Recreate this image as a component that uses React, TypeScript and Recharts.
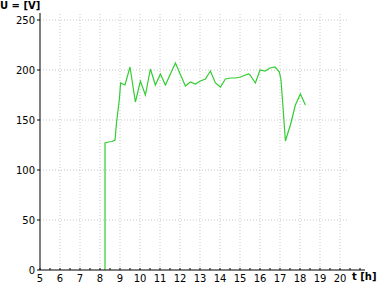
import React from "react";
import { LineChart, Line, XAxis, YAxis, ReferenceLine } from "recharts";

const hours = [
  8.25, 8.25, 8.42, 8.6, 8.75, 8.83, 8.97, 9.03, 9.25, 9.5, 9.77, 10.02, 10.27,
  10.52, 10.77, 11.02, 11.27, 11.77, 12.27, 12.52, 12.77, 13.02, 13.27, 13.52,
  13.77, 14.02, 14.27, 14.52, 14.77, 15.02, 15.42, 15.5, 15.77, 16.0, 16.25,
  16.5, 16.75, 16.97, 17.05, 17.15, 17.27, 17.52, 17.77, 18.02, 18.27,
];
const volts = [
  0, 127, 128, 128.5, 130, 148, 171, 187, 185, 203, 168, 189, 175, 201, 185,
  196, 185, 207, 184, 188, 186, 189, 191, 199, 187, 183, 191, 192, 192, 193,
  196, 195, 187, 200, 199, 202, 203, 198, 190, 163, 129, 145, 165, 176, 165,
];

const yGrid = [50, 100, 150, 200, 250];
const xGrid = [6, 7, 8, 9, 10, 11, 12, 13, 14, 15, 16, 17, 18, 19, 20];
const xLabels = [5, 6, 7, 8, 9, 10, 11, 12, 13, 14, 15, 16, 17, 18, 19, 20];
const xMinor = [
  5, 5.5, 6, 6.5, 7, 7.5, 8, 8.5, 9, 9.5, 10, 10.5, 11, 11.5, 12, 12.5, 13,
  13.5, 14, 14.5, 15, 15.5, 16, 16.5, 17, 17.5, 18, 18.5, 19, 19.5, 20, 20.5, 21,
];
const yTicks = [0, 50, 100, 150, 200, 250];

const data = hours.map((t, i) => ({ t, v: volts[i] }));

const FONT = "'DejaVu Sans', sans-serif";

const XTick = (props: any) => {
  const { x, y, payload } = props;
  const showLabel = xLabels.includes(payload.value);
  return (
    <g>
      <line x1={x} x2={x} y1={y} y2={y - 2} stroke="#000" />
      {showLabel && (
        <text x={x} y={y + 12} textAnchor="middle" fontSize={10} fontFamily={FONT} fill="#000">
          {payload.value}
        </text>
      )}
    </g>
  );
};

const YTick = (props: any) => {
  const { x, y, payload } = props;
  return (
    <g>
      <line x1={x} x2={x - 3} y1={y} y2={y} stroke="#000" />
      <text x={x - 5} y={y + 3.5} textAnchor="end" fontSize={10} fontFamily={FONT} fill="#000">
        {payload.value}
      </text>
    </g>
  );
};

export default function App() {
  return (
    <div style={{ position: "absolute", left: 0, top: 0, width: 378, height: 283, background: "#fff" }}>
      <LineChart
        width={378}
        height={283}
        data={data}
        margin={{ top: 13, right: 13, bottom: 0, left: 0 }}
      >
        {yGrid.map((v) => (
          <ReferenceLine
            key={`h-${v}`}
            segment={[
              { x: 5, y: v },
              { x: 20.35, y: v },
            ]}
            stroke="#c8c8c8"
            strokeDasharray="1 2"
            ifOverflow="visible"
          />
        ))}
        {xGrid.map((t) => (
          <ReferenceLine
            key={`v-${t}`}
            segment={[
              { x: t, y: 0 },
              { x: t, y: 257 },
            ]}
            stroke="#c8c8c8"
            strokeDasharray="1 2"
            ifOverflow="visible"
          />
        ))}
        <XAxis
          dataKey="t"
          type="number"
          domain={[5, 21.25]}
          ticks={xMinor}
          interval={0}
          height={13}
          tickSize={0}
          tickMargin={0}
          axisLine={{ stroke: "#000", strokeWidth: 1 }}
          tickLine={false}
          tick={<XTick />}
          allowDataOverflow
        />
        <YAxis
          dataKey="v"
          type="number"
          domain={[0, 257]}
          ticks={yTicks}
          interval={0}
          width={40}
          tickSize={0}
          tickMargin={0}
          axisLine={{ stroke: "#000", strokeWidth: 1 }}
          tickLine={false}
          tick={<YTick />}
          allowDataOverflow
        />
        <Line
          type="linear"
          dataKey="v"
          stroke="#33cc33"
          strokeWidth={1.2}
          dot={false}
          isAnimationActive={false}
        />
      </LineChart>
      <div
        style={{
          position: "absolute",
          left: 0,
          top: 0,
          fontFamily: FONT,
          fontWeight: "bold",
          fontSize: 10,
          lineHeight: "11px",
          whiteSpace: "pre",
        }}
      >
        U = [V]
      </div>
      <div
        style={{
          position: "absolute",
          left: 352,
          top: 271,
          fontFamily: FONT,
          fontWeight: "bold",
          fontSize: 10,
          lineHeight: "11px",
          whiteSpace: "pre",
        }}
      >
        t [h]
      </div>
    </div>
  );
}
